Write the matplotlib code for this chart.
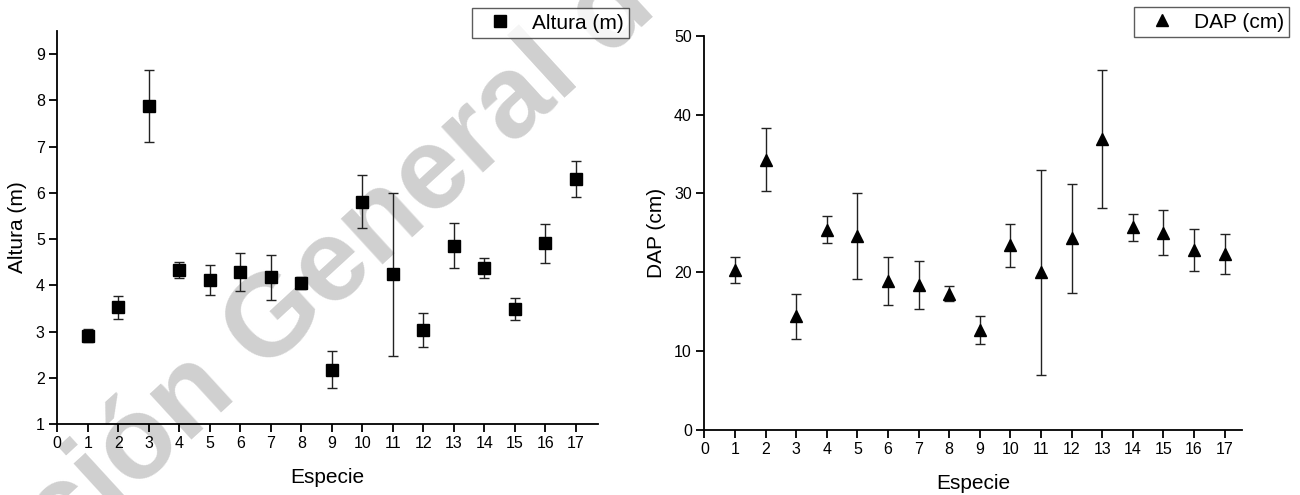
import numpy as np
import matplotlib
matplotlib.use("Agg")
import matplotlib.pyplot as plt

plt.rcParams["font.family"] = ["Liberation Sans", "DejaVu Sans"]

especie = np.arange(1, 18)

altura = [2.91, 3.52, 7.88, 4.33, 4.11, 4.28, 4.17, 4.05, 2.17,
          5.81, 4.24, 3.03, 4.86, 4.37, 3.48, 4.91, 6.30]
altura_err = [0.14, 0.25, 0.77, 0.17, 0.32, 0.41, 0.48, 0.13, 0.40,
              0.57, 1.76, 0.37, 0.49, 0.22, 0.24, 0.42, 0.38]

dap = [20.3, 34.3, 14.4, 25.4, 24.6, 18.9, 18.4, 17.3, 12.7,
       23.4, 20.0, 24.3, 36.9, 25.7, 25.0, 22.8, 22.3]
dap_err = [1.65, 3.95, 2.8, 1.7, 5.45, 3.05, 3.05, 0.9, 1.75,
           2.75, 13.0, 6.95, 8.8, 1.7, 2.85, 2.65, 2.5]

W, H = 1300, 495
fig = plt.figure(figsize=(W / 100, H / 100), dpi=100)

# faint watermark behind everything
fig.text(62 / W, 1 - 558 / H, "ción General de", fontsize=84, fontweight="bold",
         color="#d0d0d0", rotation=42.5, rotation_mode="anchor",
         ha="left", va="baseline", zorder=-5)


def style(ax, xmax, ylim, yticks):
    ax.set_facecolor("none")
    for s in ("top", "right"):
        ax.spines[s].set_visible(False)
    for s in ("left", "bottom"):
        ax.spines[s].set_linewidth(1.3)
    ax.set_xlim(0, xmax)
    ax.set_ylim(*ylim)
    ax.set_xticks(range(0, 18))
    ax.set_yticks(yticks)
    ax.tick_params(direction="out", length=6, width=1.3, labelsize=11.5, pad=3)
    ax.set_xlabel("Especie", fontsize=15, labelpad=12)


def add_legend(ax, x, y):
    leg = ax.legend(loc="upper right", bbox_to_anchor=(x, y), bbox_transform=fig.transFigure,
                    fontsize=15, frameon=True, fancybox=False, borderpad=0.25,
                    handlelength=2.2, handletextpad=0.45, borderaxespad=0)
    leg.get_frame().set_edgecolor("#333333")
    leg.get_frame().set_linewidth(1.0)


# ---- left: Altura ----
ax1 = fig.add_axes([57.3 / W, 1 - 424 / H, (598.3 - 57.3) / W, (424 - 31) / H])
ax1.errorbar(especie, altura, yerr=altura_err, fmt="none",
             ecolor="#222222", elinewidth=1.0, capsize=3.3, capthick=1.0)
ax1.plot(especie, altura, "s", color="black", ms=8, label="Altura (m)")
style(ax1, 17.74, (1, 9.5), range(1, 10))
ax1.set_ylabel("Altura (m)", fontsize=15, labelpad=6)
add_legend(ax1, 629 / W, 1 - 8.3 / H)

# ---- right: DAP ----
ax2 = fig.add_axes([704.4 / W, 1 - 430 / H, (1241.7 - 704.4) / W, (430 - 35.7) / H])
ax2.errorbar(especie, dap, yerr=dap_err, fmt="none",
             ecolor="#222222", elinewidth=1.0, capsize=3.3, capthick=1.0)
ax2.plot(especie, dap, "^", color="black", ms=9, label="DAP (cm)")
style(ax2, 17.56, (0, 50), range(0, 51, 10))
ax2.set_ylabel("DAP (cm)", fontsize=15, labelpad=6)
add_legend(ax2, 1289.3 / W, 1 - 7.3 / H)

fig.savefig("out.png", dpi=100)
